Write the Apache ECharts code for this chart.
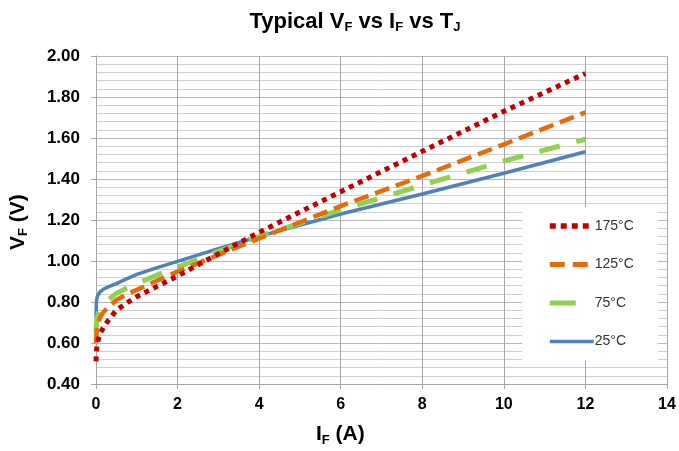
<!DOCTYPE html>
<html>
<head>
<meta charset="utf-8">
<title>Typical VF vs IF vs TJ</title>
<script src="https://cdn.jsdelivr.net/npm/echarts@6/dist/echarts.min.js"></script>
<style>
  html, body { margin: 0; padding: 0; background: #fff; }
  #chart { width: 679px; height: 451px; }
</style>
</head>
<body>
<div id="chart"></div>
<script>
// forward current (A) shared by all curves
var current = [0, 0.01, 0.03, 0.06, 0.1, 0.18, 0.3, 0.5, 0.75, 1, 1.5, 2, 3, 4, 6, 8, 10, 12];
// forward voltage (V) per junction temperature
var vf25  = [0.72, 0.80, 0.825, 0.838, 0.85, 0.862, 0.874, 0.89, 0.913, 0.935, 0.968, 0.998, 1.06, 1.12, 1.229, 1.327, 1.428, 1.533];
var vf75  = [0.65, 0.69, 0.725, 0.75, 0.77, 0.787, 0.81, 0.842, 0.867, 0.89, 0.932, 0.97, 1.047, 1.12, 1.249, 1.37, 1.488, 1.594];
var vf125 = [0.60, 0.64, 0.675, 0.70, 0.725, 0.75, 0.775, 0.81, 0.837, 0.859, 0.905, 0.948, 1.03, 1.11, 1.268, 1.415, 1.569, 1.725];
var vf175 = [0.51, 0.56, 0.595, 0.62, 0.645, 0.675, 0.71, 0.76, 0.795, 0.826, 0.877, 0.927, 1.035, 1.14, 1.338, 1.535, 1.73, 1.915];
var legendNames = ["175°C", "125°C", "75°C", "25°C"];
var xTicks = [0, 14, 2];       // min, max, interval
var yTicks = [0.4, 2.0, 0.2];

function pairs(ys) {
  return current.map(function (x, i) { return [x, ys[i]]; });
}

var font = "Liberation Sans, Arial, sans-serif";

// line look per temperature (legend keys use the same)
var styles = {
  "25°C":  { color: "#4f81bd", width: 3.5, type: "solid" },
  "75°C":  { color: "#92d050", width: 5, type: [21, 17], cap: "butt" },
  "125°C": { color: "#e46c0a", width: 4.5, type: [15, 7], cap: "butt" },
  "175°C": { color: "#c00000", width: 5, type: [5, 5], cap: "butt" }
};
var legendStyles = {
  "25°C":  { color: "#4f81bd", width: 3.5, type: "solid" },
  "75°C":  { color: "#92d050", width: 5, type: [26, 30], cap: "butt" },
  "125°C": { color: "#e46c0a", width: 5, type: [15, 8], cap: "butt" },
  "175°C": { color: "#c00000", width: 5.5, type: [6, 5], cap: "butt" }
};

function series(name, ys) {
  return {
    name: name, type: "line", data: pairs(ys), symbol: "none", smooth: false,
    lineStyle: styles[name],
    itemStyle: { color: styles[name].color }
  };
}

var chart = echarts.init(document.getElementById("chart"));
chart.setOption({
  animation: false,
  title: {
    text: "Typical V{s|F} vs I{s|F} vs T{s|J}",
    left: 350,
    textAlign: "center",
    top: 5,
    textStyle: {
      fontFamily: font, fontSize: 22, fontWeight: "bold", color: "#000",
      rich: { s: { fontSize: 13, fontWeight: "bold", fontFamily: font, color: "#000", padding: [11, 0, 0, 0] } }
    }
  },
  grid: { left: 96, right: 12, top: 56, bottom: 67 },
  legend: {
    orient: "vertical",
    left: 522,
    top: 207,
    padding: [12, 24, 12, 25],
    backgroundColor: "#fff",
    itemWidth: 44,
    itemHeight: 14,
    itemGap: 24.5,
    data: legendNames.map(function (n) {
      return { name: n, lineStyle: legendStyles[n] };
    }),
    itemStyle: { opacity: 0 },
    textStyle: { fontFamily: font, fontSize: 14, color: "#333", padding: [0, 0, 0, -4] }
  },
  xAxis: {
    type: "value",
    min: xTicks[0], max: xTicks[1], interval: xTicks[2],
    axisLine: { show: true, lineStyle: { color: "#a6a6a6", width: 1 } },
    axisTick: { show: true, length: 5, lineStyle: { color: "#a6a6a6" } },
    axisLabel: { margin: 13, fontFamily: font, fontSize: 16, fontWeight: "bold", color: "#000" },
    splitLine: { show: true, lineStyle: { color: "#a6a6a6", width: 1 } }
  },
  yAxis: {
    type: "value",
    min: yTicks[0], max: yTicks[1], interval: yTicks[2],
    axisLine: { show: true, lineStyle: { color: "#a6a6a6", width: 1 } },
    axisTick: { show: true, length: 5, lineStyle: { color: "#a6a6a6" } },
    axisLabel: {
      margin: 16, fontFamily: font, fontSize: 17, fontWeight: "bold", color: "#000",
      formatter: function (v) { return v.toFixed(2); }
    },
    splitLine: { show: true, lineStyle: { color: "#b8b8b8", width: 1 } },
    minorTick: { show: false, splitNumber: 5 },
    minorSplitLine: { show: true, lineStyle: { color: "#d0d0d0", width: 1 } }
  },
  graphic: [
    {
      type: "text", left: 316, top: 424,
      style: {
        text: "I{s|F} (A)",
        font: "bold 21px " + font,
        fill: "#000",
        rich: { s: { fontSize: 13, fontWeight: "bold", fontFamily: font, fill: "#000", padding: [11, 0, 0, 0] } }
      }
    },
    {
      type: "text", x: 6, y: 250, rotation: Math.PI / 2,
      style: {
        text: "V{s|F} (V)",
        font: "bold 21px " + font,
        fill: "#000",
        rich: { s: { fontSize: 13, fontWeight: "bold", fontFamily: font, fill: "#000", padding: [11, 0, 0, 0] } }
      }
    }
  ],
  series: [
    series("25°C", vf25),
    series("75°C", vf75),
    series("125°C", vf125),
    series("175°C", vf175)
  ]
});
</script>
</body>
</html>
